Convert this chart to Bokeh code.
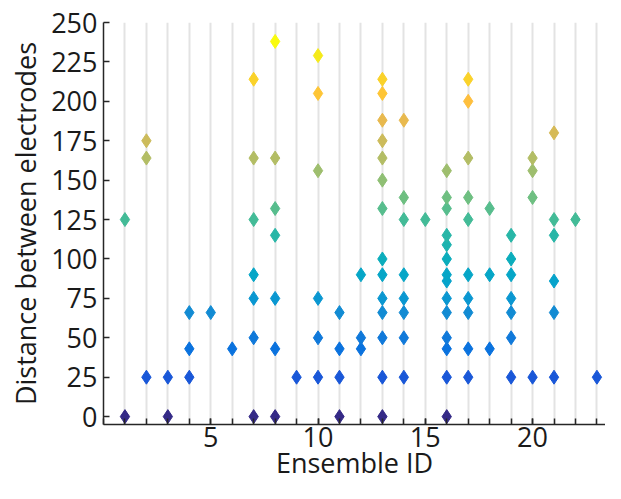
import numpy as np
from bokeh.plotting import figure
from bokeh.models import ColumnDataSource, FixedTicker, LinearColorMapper
from bokeh.transform import transform
from bokeh.embed import file_html
from bokeh.resources import INLINE

# ---- data: distance between electrodes per ensemble ----
ensemble_1 = [0, 125]
ensemble_2 = [25, 164, 175]
ensemble_3 = [0, 25]
ensemble_4 = [25, 43, 66]
ensemble_5 = [66]
ensemble_6 = [43]
ensemble_7 = [0, 50, 75, 90, 125, 164, 214]
ensemble_8 = [0, 43, 75, 115, 132, 164, 238]
ensemble_9 = [25]
ensemble_10 = [25, 50, 75, 156, 205, 229]
ensemble_11 = [0, 25, 43, 66]
ensemble_12 = [43, 50, 90]
ensemble_13 = [0, 25, 50, 66, 75, 90, 100, 132, 150, 164, 175, 188, 205, 214]
ensemble_14 = [25, 50, 66, 75, 90, 125, 139, 188]
ensemble_15 = [125]
ensemble_16 = [0, 25, 43, 50, 66, 75, 86, 90, 100, 109, 115, 132, 139, 156]
ensemble_17 = [25, 43, 66, 75, 90, 125, 139, 164, 200, 214]
ensemble_18 = [43, 90, 132]
ensemble_19 = [25, 50, 66, 75, 90, 100, 115]
ensemble_20 = [25, 139, 156, 164]
ensemble_21 = [25, 66, 86, 115, 125, 180]
ensemble_22 = [125]
ensemble_23 = [25]

ensembles = [ensemble_1, ensemble_2, ensemble_3, ensemble_4, ensemble_5, ensemble_6,
             ensemble_7, ensemble_8, ensemble_9, ensemble_10, ensemble_11, ensemble_12,
             ensemble_13, ensemble_14, ensemble_15, ensemble_16, ensemble_17, ensemble_18,
             ensemble_19, ensemble_20, ensemble_21, ensemble_22, ensemble_23]

x_major_ticks = [5, 10, 15, 20]
y_ticks = [0, 25, 50, 75, 100, 125, 150, 175, 200, 225, 250]

xs, ys = [], []
for i, vals in enumerate(ensembles, start=1):
    for v in vals:
        xs.append(i)
        ys.append(v)

# ---- parula colormap ----
parula64 = np.array([
[0.2081,0.1663,0.5292],[0.2116,0.1898,0.5777],[0.2123,0.2138,0.6270],[0.2081,0.2386,0.6771],
[0.1959,0.2645,0.7279],[0.1707,0.2919,0.7792],[0.1253,0.3242,0.8303],[0.0591,0.3598,0.8683],
[0.0117,0.3875,0.8820],[0.0060,0.4086,0.8828],[0.0165,0.4266,0.8786],[0.0329,0.4430,0.8720],
[0.0498,0.4586,0.8641],[0.0629,0.4737,0.8554],[0.0723,0.4887,0.8467],[0.0779,0.5040,0.8384],
[0.0793,0.5200,0.8312],[0.0749,0.5375,0.8263],[0.0641,0.5570,0.8240],[0.0488,0.5772,0.8228],
[0.0343,0.5966,0.8199],[0.0265,0.6137,0.8135],[0.0239,0.6287,0.8038],[0.0231,0.6418,0.7913],
[0.0228,0.6535,0.7768],[0.0267,0.6642,0.7607],[0.0384,0.6743,0.7436],[0.0590,0.6838,0.7254],
[0.0843,0.6928,0.7062],[0.1133,0.7015,0.6859],[0.1453,0.7098,0.6646],[0.1801,0.7177,0.6424],
[0.2178,0.7250,0.6193],[0.2586,0.7317,0.5954],[0.3022,0.7376,0.5712],[0.3482,0.7424,0.5473],
[0.3953,0.7459,0.5244],[0.4420,0.7481,0.5033],[0.4871,0.7491,0.4840],[0.5300,0.7491,0.4661],
[0.5709,0.7485,0.4494],[0.6099,0.7473,0.4337],[0.6473,0.7456,0.4188],[0.6834,0.7435,0.4044],
[0.7184,0.7411,0.3905],[0.7525,0.7384,0.3768],[0.7858,0.7356,0.3633],[0.8185,0.7327,0.3498],
[0.8507,0.7299,0.3360],[0.8824,0.7274,0.3217],[0.9139,0.7258,0.3063],[0.9450,0.7261,0.2886],
[0.9739,0.7314,0.2666],[0.9938,0.7455,0.2403],[0.9990,0.7653,0.2164],[0.9955,0.7861,0.1967],
[0.9880,0.8066,0.1794],[0.9789,0.8271,0.1633],[0.9697,0.8481,0.1475],[0.9626,0.8705,0.1309],
[0.9589,0.8949,0.1132],[0.9598,0.9218,0.0948],[0.9661,0.9514,0.0755],[0.9763,0.9831,0.0538]])
t64 = np.linspace(0, 1, 64)
t256 = np.linspace(0, 1, 256)
pal = []
for t in t256:
    r = np.interp(t, t64, parula64[:, 0])
    g = np.interp(t, t64, parula64[:, 1])
    b = np.interp(t, t64, parula64[:, 2])
    pal.append("#%02x%02x%02x" % (int(round(r * 255)), int(round(g * 255)), int(round(b * 255))))

mapper = LinearColorMapper(palette=pal, low=min(ys), high=max(ys))
src = ColumnDataSource(dict(x=xs, y=ys))

FONT = "Open Sans"
FS = "27px"

p = figure(width=605, height=483, x_range=(0, 23.4), y_range=(-5, 250),
           output_backend="svg", toolbar_location=None,
           min_border_left=103, min_border_right=0, min_border_top=22, min_border_bottom=10)
p.outline_line_color = None
p.background_fill_color = "white"

p.scatter("x", "y", source=src, marker="diamond", size=14,
          fill_color=transform("y", mapper), line_color=transform("y", mapper), line_width=1)

# grid: vertical lines at every ensemble
p.ygrid.visible = False
p.xgrid.ticker = FixedTicker(ticks=list(range(1, 24)))
p.xgrid.grid_line_color = "#e3e3e3"
p.xgrid.grid_line_width = 2

# axes
p.xaxis.ticker = FixedTicker(ticks=x_major_ticks, minor_ticks=list(range(0, 24)))
p.yaxis.ticker = FixedTicker(ticks=y_ticks)
for ax in (p.xaxis[0], p.yaxis[0]):
    ax.axis_line_color = "#262626"
    ax.axis_line_width = 1.5
    ax.major_tick_line_color = "#262626"
    ax.major_tick_line_width = 1.5
    ax.major_tick_in = 6
    ax.major_tick_out = 0
    ax.minor_tick_line_color = "#262626"
    ax.minor_tick_line_width = 1.5
    ax.minor_tick_in = 6
    ax.minor_tick_out = 0
    ax.major_label_text_font = FONT
    ax.major_label_text_font_size = FS
    ax.major_label_text_color = "#1a1a1a"
    ax.axis_label_text_font = FONT
    ax.axis_label_text_font_size = FS
    ax.axis_label_text_font_style = "normal"
    ax.axis_label_text_color = "#1a1a1a"
p.yaxis.minor_tick_line_color = None

p.xaxis.axis_label = "Ensemble ID"
p.yaxis.axis_label = "Distance between electrodes"
p.xaxis.major_label_standoff = 2
p.xaxis.axis_label_standoff = -6
p.yaxis.major_label_standoff = 6
p.yaxis.axis_label_standoff = 4

open("out.html", "w").write(file_html(p, INLINE))
